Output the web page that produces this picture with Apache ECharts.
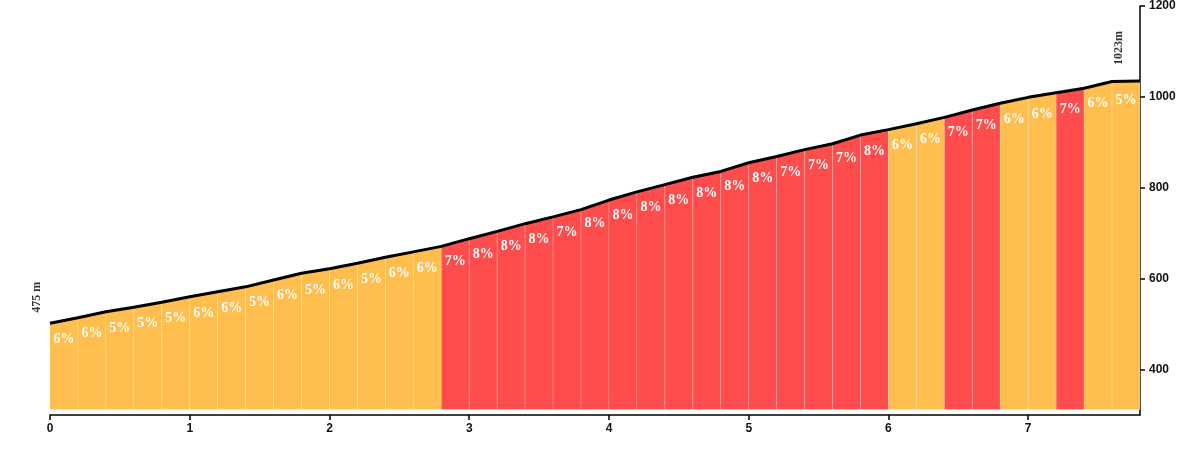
<!DOCTYPE html>
<html><head><meta charset="utf-8">
<script src="https://cdn.jsdelivr.net/npm/echarts@6/dist/echarts.min.js"></script>
<style>html,body{margin:0;padding:0;background:#fff}#c{width:1200px;height:455px}</style>
</head><body><div id="c"></div>
<script>
const distances = [0,0.2,0.4,0.6,0.8,1.0,1.2,1.4,1.6,1.8,2.0,2.2,2.4,2.6,2.8,3.0,3.2,3.4,3.6,3.8,4.0,4.2,4.4,4.6,4.8,5.0,5.2,5.4,5.6,5.8,6.0,6.2,6.4,6.6,6.8,7.0,7.2,7.4,7.6,7.8];
const elevations = [502,514,527,537,548,560,571,582,597,612,622,634,647,659,671,688,704,721,736,752,773,791,807,823,836,855,869,884,897,916,928,941,955,971,986,999,1009,1019,1034,1035];
const grades = [6,6,5,5,5,6,6,5,6,5,6,5,6,6, 7,8,8,8,7,8,8,8,8,8,8,8,7,7,7,8, 6,6,7,7,6,6,7,6,5];
const startLabel = '475 m';
const endLabel = '1023m';
const fillBase = 312;

const segData = grades.map((g, i) => [distances[i], distances[i+1], elevations[i], elevations[i+1], g]);
const lineData = distances.map((d, i) => [d, elevations[i]]);

const chart = echarts.init(document.getElementById('c'));
chart.setOption({
  animation: false,
  grid: {left: 50, right: 60, top: 5, bottom: 40},
  xAxis: {
    type: 'value', min: 0, max: 7.8, interval: 1,
    splitLine: {show: false},
    axisLine: {onZero: false, lineStyle: {color: '#000', width: 1.5}},
    axisTick: {length: 5, lineStyle: {color: '#000', width: 1.5}},
    axisLabel: {color: '#111', fontWeight: 'bold', fontSize: 12, fontFamily: 'Liberation Sans', margin: 8, showMaxLabel: false}
  },
  yAxis: {
    type: 'value', position: 'right', min: 300, max: 1200, splitNumber: 5,
    splitLine: {show: false},
    axisLine: {show: true, onZero: false, lineStyle: {color: '#000', width: 1.5}},
    axisTick: {show: true, length: 5, lineStyle: {color: '#000', width: 1.5}},
    axisLabel: {color: '#111', fontWeight: 'bold', fontSize: 12, fontFamily: 'Liberation Sans', margin: 9,
      showMinLabel: false, formatter: v => String(v)}
  },
  series: [
    {
      type: 'custom',
      data: segData,
      encode: {x: [0, 1], y: [2, 3]},
      renderItem: function (params, api) {
        const x0 = api.value(0), x1 = api.value(1), e0 = api.value(2), e1 = api.value(3), g = api.value(4);
        const p0 = api.coord([x0, fillBase]);
        const p1 = api.coord([x0, e0]);
        const p2 = api.coord([x1, e1]);
        const p3 = api.coord([x1, fillBase]);
        const mid = api.coord([(x0 + x1) / 2, (e0 + e1) / 2]);
        const color = g >= 7 ? '#FF4D4D' : '#FFBE4D';
        return {
          type: 'group',
          children: [
            {type: 'polygon', shape: {points: [p0, p1, p2, p3]},
             style: {fill: color, stroke: 'rgba(255,255,255,0.18)', lineWidth: 1}},
            {type: 'text', x: mid[0], y: mid[1] + 19,
             style: {text: g + '%', fill: '#fff', font: 'bold 14px "Liberation Serif", serif', align: 'center', verticalAlign: 'middle'}}
          ]
        };
      },
      z: 2
    },
    {
      type: 'line',
      data: lineData,
      showSymbol: false,
      lineStyle: {color: '#000', width: 3},
      z: 3
    },
    {
      type: 'scatter',
      symbolSize: 0,
      data: [
        {value: [0, elevations[0]], label: {show: true, formatter: startLabel, offset: [26, -13]}},
        {value: [7.65, elevations[elevations.length - 1]], label: {show: true, formatter: endLabel, offset: [33, 0]}}
      ],
      label: {position: 'inside', rotate: 90, color: '#000', fontWeight: 'bold', fontSize: 12, fontFamily: 'Liberation Serif'},
      z: 4
    }
  ]
});
</script></body></html>
